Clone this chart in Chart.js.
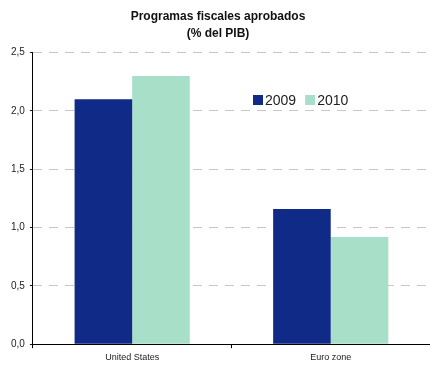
<!DOCTYPE html>
<html>
<head>
<meta charset="utf-8">
<script src="https://cdn.jsdelivr.net/npm/chart.js@4/dist/chart.umd.min.js"></script>
<style>
  html, body { margin: 0; padding: 0; background: #fff; }
  #wrap { width: 430px; height: 367px; }
</style>
</head>
<body>
<div id="wrap"><canvas id="grafico"></canvas></div>
<script>
const regiones = ['United States', 'Euro zone'];
const serie2009 = [2.1, 1.16];
const serie2010 = [2.3, 0.92];
const titulo = ['Programas fiscales aprobados', '(% del PIB)'];

// leyenda dibujada dentro del área del gráfico
const leyendaInterior = {
    id: 'leyendaInterior',
    afterDraw(chart) {
        const ctx = chart.ctx;
        let x = 253;
        const y = 100;
        ctx.save();
        ctx.font = '14px "Liberation Sans", Arial, sans-serif';
        ctx.textBaseline = 'middle';
        chart.data.datasets.forEach(ds => {
            ctx.fillStyle = ds.backgroundColor;
            ctx.fillRect(x, y - 5, 10, 10);
            ctx.fillStyle = '#222';
            ctx.fillText(ds.label, x + 12, y + 1);
            x += 12 + ctx.measureText(ds.label).width + 9;
        });
        ctx.restore();
    }
};

new Chart(document.getElementById('grafico'), {
    type: 'bar',
    data: {
        labels: regiones,
        datasets: [
            { label: '2009', data: serie2009, backgroundColor: '#0f2a87' },
            { label: '2010', data: serie2010, backgroundColor: '#a8dfc8' }
        ]
    },
    options: {
        responsive: true,
        maintainAspectRatio: false,
        animation: false,
        datasets: { bar: { categoryPercentage: 0.58, barPercentage: 1 } },
        layout: { padding: { left: 6, right: 0, top: 4, bottom: 0 } },
        plugins: {
            legend: { display: false },
            tooltip: { enabled: false },
            title: {
                display: true,
                text: titulo,
                color: '#111',
                font: { family: '"Liberation Sans", Arial, sans-serif', size: 12, weight: 'bold', lineHeight: 1.4 },
                padding: { top: 4, bottom: 11 }
            }
        },
        scales: {
            x: {
                border: { color: '#000', width: 1 },
                grid: { offset: true, drawOnChartArea: false, color: '#000', tickLength: 4 },
                ticks: { color: '#222', font: { family: '"Liberation Sans", Arial, sans-serif', size: 9 }, padding: 4 }
            },
            y: {
                min: 0,
                max: 2.5,
                border: { color: '#000', width: 1, dash: [9, 7] },
                grid: { color: '#c8c8c8', tickColor: '#000', tickLength: 3, tickBorderDash: [1, 0] },
                ticks: {
                    stepSize: 0.5,
                    color: '#222',
                    padding: 5,
                    font: { family: '"Liberation Sans", Arial, sans-serif', size: 10 },
                    callback: v => v.toFixed(1).replace('.', ',')
                }
            }
        }
    },
    plugins: [leyendaInterior]
});
</script>
</body>
</html>
